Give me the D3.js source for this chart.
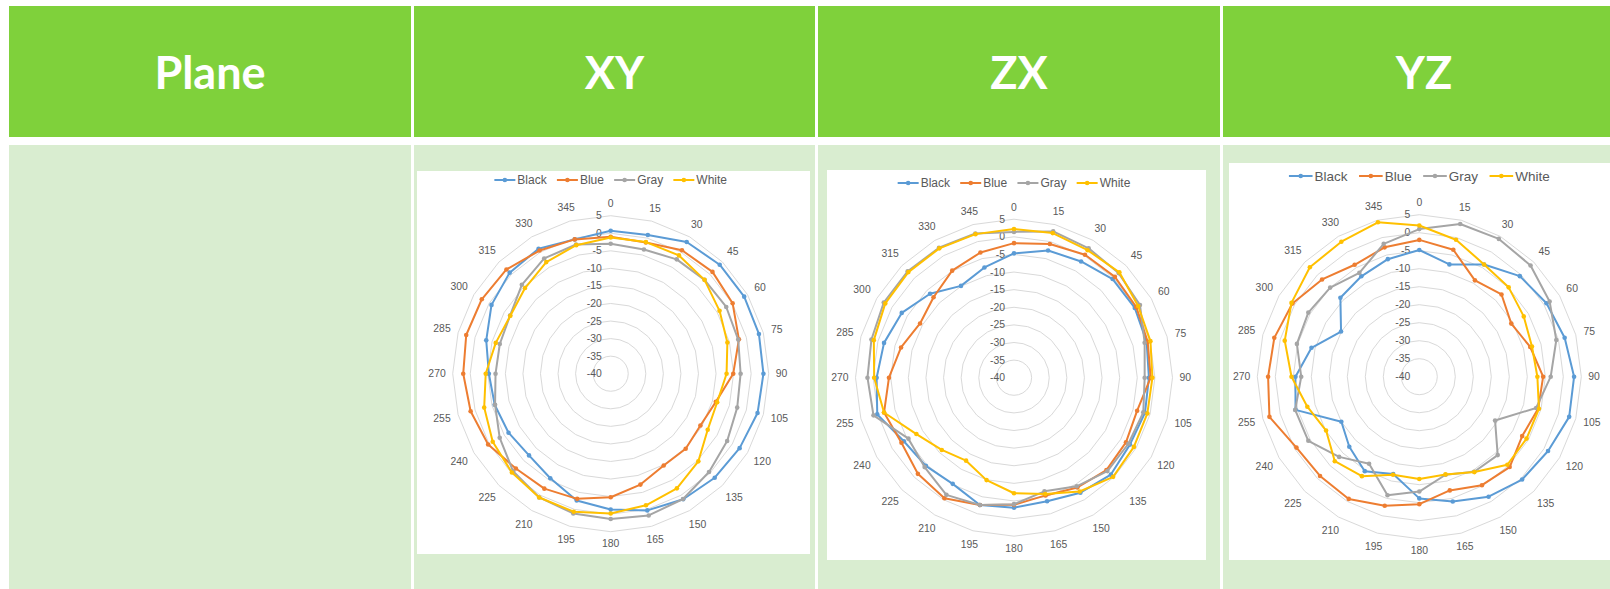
<!DOCTYPE html>
<html>
<head>
<meta charset="utf-8">
<script src="https://cdn.jsdelivr.net/npm/d3@7"></script>
<style>
  html, body { margin: 0; padding: 0; background: #ffffff; }
  svg { display: block; }
</style>
</head>
<body>
<svg id="chart" width="1610" height="589"></svg>
<script>
// ---- data -------------------------------------------------------------
const headerLabels = ["Plane", "XY", "ZX", "YZ"];
const angles = [0, 15, 30, 45, 60, 75, 90, 105, 120, 135, 150, 165,
                180, 195, 210, 225, 240, 255, 270, 285, 300, 315, 330, 345];
const radialTicks = [5, 0, -5, -10, -15, -20, -25, -30, -35, -40];
const seriesNames = ["Black", "Blue", "Gray", "White"];
const seriesColors = ["#5B9BD5", "#ED7D31", "#A5A5A5", "#FFC000"];

// XY plane
const xyBlack = [0.7, 0.9, 3.3, 3.9, 3.9, 3.7, 3.5, 3.3, 2.4, 1.9, 1.3, 0.3,
                 -1.3, -2.6, -5.6, -7.1, -6.4, -5.8, -5.3, -3.3, -0.8, 0.7, 1.1, -0.4];
const xyBlue  = [-1.0, -1.3, 0.6, 1.0, 0.1, -2.2, -5.1, -9.0, -10.5, -9.8, -9.8, -7.3,
                 -4.8, -3.1, -2.2, -1.8, 0.3, 1.3, 2.0, 2.6, 2.4, 2.0, 0.5, -0.4];
const xyGray  = [-3.0, -3.4, -2.4, -2.2, -2.0, -2.4, -3.0, -2.7, -1.7, -0.4, 1.2, 1.8,
                 1.4, 1.2, 0.7, -0.7, -3.5, -5.9, -7.2, -7.3, -6.9, -4.2, -2.1, -1.9];
const xyWhite = [-1.2, -1.2, -1.1, -2.2, -4.2, -5.6, -7.0, -8.6, -8.1, -4.7, -2.3, -1.2,
                 -0.2, 0.7, 0.7, -0.2, -1.2, -2.7, -4.4, -6.1, -7.0, -5.5, -3.3, -2.1];

// ZX plane
const zxBlack = [-4.7, -2.6, -1.9, -0.4, -0.4, -1.0, -1.7, -1.5, -2.0, -1.1, -2.3, -3.7,
                 -3.1, -2.6, -5.2, -4.6, -3.9, 0.2, -1.0, -1.8, -3.2, -6.3, -9.9, -7.6];
const zxBlue  = [-1.8, -0.7, 0.3, 0.5, 0.1, -0.7, -1.2, -3.8, -3.3, -2.9, -4.0, -5.4,
                 -3.9, -2.6, -0.5, -1.4, -3.1, -1.8, -4.5, -6.8, -9.2, -7.7, -4.9, -3.2];
const zxGray  = [1.4, 3.0, 2.4, 2.0, 1.3, -1.6, -2.9, -2.0, -2.5, -2.5, -4.4, -6.6,
                 -4.1, -2.6, -1.6, -4.1, -5.4, 1.3, 1.6, 1.9, 2.7, 2.7, 2.6, 2.4];
const zxWhite = [2.2, 2.5, 1.8, 2.3, 0.7, 0.1, -0.7, -0.8, -0.7, -0.2, -2.7, -5.8,
                 -7.2, -9.9, -12.8, -11.0, -8.0, -1.8, -0.3, 1.2, 2.2, 2.4, 2.4, 2.2];

// YZ plane
const yzBlack = [-4.8, -7.7, -4.0, -0.5, 0.8, 1.8, 3.0, 3.1, 1.3, 0.4, -1.5, -4.1,
                 -6.2, -12.0, -9.7, -12.5, -15.0, -4.4, -5.6, -9.0, -14.9, -9.0, -7.8, -6.2];
const yzBlue  = [-2.0, -3.5, -9.1, -7.7, -10.5, -8.1, -5.6, -5.8, -7.0, -4.5, -5.2, -7.3,
                 -4.6, -2.9, -0.8, -1.0, -0.6, 3.1, 2.0, 1.7, 0.7, -1.8, -4.1, -2.8];
const yzGray  = [1.0, 3.9, 4.2, 3.7, 1.8, -0.6, -3.5, -6.4, -15.7, -9.2, -9.5, -11.8,
                 -8.1, -5.9, -12.1, -8.5, -4.4, -4.3, -7.2, -4.8, -4.4, -5.0, -6.7, -1.8];
const yzWhite = [2.0, -0.6, -4.0, -4.9, -6.5, -7.6, -7.2, -5.6, -5.6, -5.4, -9.4, -11.9,
                 -11.6, -11.8, -8.1, -6.8, -10.1, -7.8, -4.5, -1.3, 1.0, 3.0, 3.3, 4.4];

// ---- layout -----------------------------------------------------------
const svg = d3.select("#chart");

const columns = [[9, 411], [414, 815], [818, 1220], [1223, 1625]];
const headerBand = [6, 137];
const bodyBand = [145, 589];
const headerFill = "#7FD13B";
const bodyFill = "#D9EDD0";
const textGray = "#595959";
const gridGray = "#D9D9D9";

const charts = [
  { name: "XY", panel: [417, 171, 393, 383], cx: 610.7, cy: 373.7, R: 158,
    legendY: 180, legendFont: 12, series: [xyBlack, xyBlue, xyGray, xyWhite] },
  { name: "ZX", panel: [827, 170, 379, 390], cx: 1014, cy: 377.7, R: 158.5,
    legendY: 183, legendFont: 12, series: [zxBlack, zxBlue, zxGray, zxWhite] },
  { name: "YZ", panel: [1229, 163, 390, 397], cx: 1419.3, cy: 376.7, R: 162,
    legendY: 176, legendFont: 13.5, series: [yzBlack, yzBlue, yzGray, yzWhite] }
];

// ---- table ------------------------------------------------------------
const table = svg.append("g").attr("class", "table");
table.selectAll("rect.head").data(columns).join("rect")
  .attr("class", "head")
  .attr("x", d => d[0]).attr("y", headerBand[0])
  .attr("width", d => d[1] - d[0]).attr("height", headerBand[1] - headerBand[0])
  .attr("fill", headerFill);
table.selectAll("rect.body").data(columns).join("rect")
  .attr("class", "body")
  .attr("x", d => d[0]).attr("y", bodyBand[0])
  .attr("width", d => d[1] - d[0]).attr("height", bodyBand[1] - bodyBand[0])
  .attr("fill", bodyFill);
table.selectAll("text.head").data(headerLabels).join("text")
  .attr("class", "head")
  .attr("x", (d, i) => (columns[i][0] + columns[i][1]) / 2)
  .attr("y", (headerBand[0] + headerBand[1]) / 2 + 17)
  .attr("text-anchor", "middle")
  .attr("font-family", "Lato, 'Open Sans', sans-serif")
  .attr("font-weight", "bold")
  .attr("font-size", 45)
  .attr("fill", "#ffffff")
  .text(d => d);

// ---- radar charts -----------------------------------------------------
const angleScale = d3.scaleLinear().domain([0, 360]).range([0, 2 * Math.PI]);
const fontFamily = "'Liberation Sans', Arial, sans-serif";

charts.forEach(cfg => {
  const [px, py, pw, ph] = cfg.panel;
  svg.append("rect")
    .attr("x", px).attr("y", py).attr("width", pw).attr("height", ph)
    .attr("fill", "#ffffff");

  const g = svg.append("g").attr("transform", `translate(${cfg.cx},${cfg.cy})`);
  const r = d3.scaleLinear().domain([-40, 5]).range([0, cfg.R]);

  const ring = d3.lineRadial()
    .angle(a => angleScale(a))
    .curve(d3.curveLinearClosed);

  // grid polygons
  g.append("g").selectAll("path")
    .data(radialTicks.filter(t => t > -40))
    .join("path")
    .attr("d", t => ring.radius(() => r(t))(angles))
    .attr("fill", "none")
    .attr("stroke", gridGray)
    .attr("stroke-width", 1);

  // value labels along the 0° spoke
  g.append("g").selectAll("text")
    .data(radialTicks)
    .join("text")
    .attr("x", -9)
    .attr("y", t => -r(t))
    .attr("text-anchor", "end")
    .attr("dominant-baseline", "central")
    .attr("font-family", fontFamily)
    .attr("font-size", 10.4)
    .attr("fill", textGray)
    .text(t => t);

  // category labels round the outside
  g.append("g").selectAll("text")
    .data(angles)
    .join("text")
    .attr("text-anchor", "middle")
    .attr("dominant-baseline", "central")
    .attr("font-family", fontFamily)
    .attr("font-size", 10.4)
    .attr("fill", textGray)
    .text(a => a)
    .each(function (a) {
      const w = this.getComputedTextLength();
      const t = angleScale(a);
      const s = Math.sin(t), c = Math.cos(t);
      const off = r(5) + 7 + Math.abs(s) * w / 2 + Math.abs(c) * 5;
      d3.select(this).attr("x", off * s).attr("y", -off * c);
    });

  // series
  const line = d3.lineRadial()
    .angle((d, i) => angleScale(angles[i]))
    .radius(d => r(d))
    .curve(d3.curveLinearClosed);

  cfg.series.forEach((vals, si) => {
    const sg = g.append("g");
    sg.append("path")
      .attr("d", line(vals))
      .attr("fill", "none")
      .attr("stroke", seriesColors[si])
      .attr("stroke-width", 2)
      .attr("stroke-linejoin", "round");
    sg.selectAll("circle").data(vals).join("circle")
      .attr("cx", (d, i) => r(d) * Math.sin(angleScale(angles[i])))
      .attr("cy", (d, i) => -r(d) * Math.cos(angleScale(angles[i])))
      .attr("r", 2.3)
      .attr("fill", seriesColors[si]);
  });

  // legend, centred over the plot
  const lg = svg.append("g");
  const sym = cfg.legendFont * 1.75;
  const gap = cfg.legendFont * 0.85;
  let x = 0;
  seriesNames.forEach((name, i) => {
    const it = lg.append("g");
    it.append("line")
      .attr("x1", 0).attr("x2", sym).attr("y1", 0).attr("y2", 0)
      .attr("stroke", seriesColors[i]).attr("stroke-width", 2);
    it.append("circle").attr("cx", sym / 2).attr("cy", 0).attr("r", 2.3)
      .attr("fill", seriesColors[i]);
    const tx = it.append("text")
      .attr("x", sym + 2).attr("y", 0)
      .attr("dominant-baseline", "central")
      .attr("font-family", fontFamily)
      .attr("font-size", cfg.legendFont)
      .attr("fill", textGray)
      .text(name);
    const wItem = sym + 2 + tx.node().getComputedTextLength();
    it.attr("transform", `translate(${x},0)`);
    x += wItem + gap;
  });
  const total = x - gap;
  lg.attr("transform", `translate(${cfg.cx - total / 2},${cfg.legendY})`);
});
</script>
</body>
</html>
